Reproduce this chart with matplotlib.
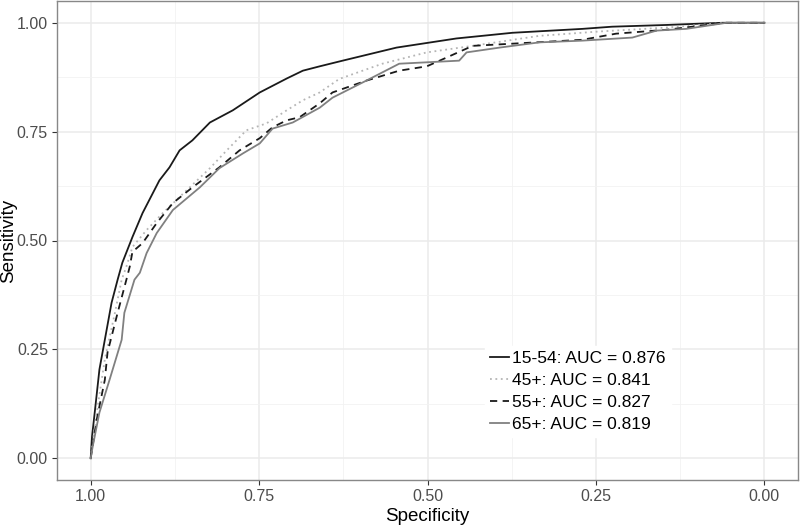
import matplotlib
matplotlib.use("Agg")
import matplotlib.pyplot as plt
from matplotlib.ticker import FixedLocator

plt.rcParams['font.family'] = ['Liberation Sans', 'DejaVu Sans']

labels = ["15-54: AUC = 0.876", "45+: AUC = 0.841", "55+: AUC = 0.827", "65+: AUC = 0.819"]

spec_1554 = [1.0, 0.998, 0.994, 0.987, 0.979, 0.969, 0.960, 0.953, 0.938, 0.923, 0.898, 0.883,
             0.868, 0.849, 0.823, 0.789, 0.749, 0.709, 0.685, 0.660, 0.626, 0.546, 0.457, 0.374,
             0.270, 0.226, 0.145, 0.062, 0.0]
sens_1554 = [0.0, 0.05, 0.105, 0.204, 0.272, 0.357, 0.41, 0.449, 0.508, 0.563, 0.638, 0.668,
             0.707, 0.730, 0.771, 0.799, 0.84, 0.872, 0.89, 0.90, 0.913, 0.943, 0.964, 0.977,
             0.986, 0.991, 0.995, 1.0, 1.0]

spec_45 = [1.0, 0.991, 0.979, 0.964, 0.954, 0.947, 0.938, 0.917, 0.893, 0.853, 0.823, 0.798,
           0.769, 0.739, 0.709, 0.685, 0.660, 0.631, 0.567, 0.501, 0.433, 0.334, 0.245, 0.145,
           0.056, 0.0]
sens_45 = [0.0, 0.105, 0.227, 0.334, 0.41, 0.44, 0.485, 0.524, 0.563, 0.622, 0.666, 0.707,
           0.753, 0.769, 0.799, 0.822, 0.84, 0.871, 0.906, 0.932, 0.947, 0.970, 0.980, 0.989,
           1.0, 1.0]

spec_55 = [1.0, 0.991, 0.979, 0.975, 0.960, 0.947, 0.942, 0.938, 0.923, 0.902, 0.878, 0.849,
           0.809, 0.779, 0.749, 0.730, 0.709, 0.690, 0.660, 0.641, 0.591, 0.542, 0.501, 0.482,
           0.433, 0.374, 0.270, 0.220, 0.145, 0.096, 0.056, 0.0]
sens_55 = [0.0, 0.089, 0.18, 0.243, 0.334, 0.41, 0.44, 0.474, 0.494, 0.54, 0.586, 0.622,
           0.668, 0.707, 0.735, 0.760, 0.776, 0.783, 0.815, 0.84, 0.867, 0.89, 0.90, 0.913,
           0.947, 0.952, 0.961, 0.975, 0.984, 0.993, 1.0, 1.0]

spec_65 = [1.0, 0.997, 0.987, 0.972, 0.954, 0.950, 0.935, 0.927, 0.917, 0.902, 0.878, 0.838,
           0.809, 0.774, 0.749, 0.730, 0.700, 0.660, 0.641, 0.591, 0.542, 0.453, 0.442, 0.393,
           0.334, 0.270, 0.196, 0.160, 0.116, 0.056, 0.0]
sens_65 = [0.0, 0.027, 0.105, 0.18, 0.272, 0.334, 0.41, 0.426, 0.471, 0.517, 0.57, 0.622,
           0.666, 0.70, 0.723, 0.757, 0.771, 0.805, 0.828, 0.867, 0.906, 0.913, 0.932, 0.943,
           0.955, 0.959, 0.966, 0.982, 0.986, 1.0, 1.0]

ticks = [0.0, 0.25, 0.5, 0.75, 1.0]
tick_labels = ["0.00", "0.25", "0.50", "0.75", "1.00"]

fig = plt.figure(figsize=(8, 5.31), dpi=100)
ax = fig.add_axes([57/800, 51/531, 741/800, 479/531])

ax.plot(spec_1554, sens_1554, color='#1a1a1a', lw=1.3, linestyle='-', label=labels[0])
ax.plot(spec_45, sens_45, color='#b5b5b5', lw=1.3, linestyle=(0, (1, 2)), label=labels[1])
ax.plot(spec_55, sens_55, color='#1a1a1a', lw=1.3, linestyle=(0, (4, 3)), label=labels[2])
ax.plot(spec_65, sens_65, color='#808080', lw=1.3, linestyle='-', label=labels[3])

ax.set_xlim(1.05, -0.05)
ax.set_ylim(-0.05, 1.05)
ax.set_xticks(ticks)
ax.set_xticklabels(tick_labels)
ax.set_yticks(ticks)
ax.set_yticklabels(tick_labels)
ax.xaxis.set_minor_locator(FixedLocator([0.125, 0.375, 0.625, 0.875]))
ax.yaxis.set_minor_locator(FixedLocator([0.125, 0.375, 0.625, 0.875]))
ax.grid(which='major', color='#ebebeb', lw=1.1)
ax.grid(which='minor', color='#f2f2f2', lw=0.6)
ax.set_axisbelow(True)
ax.tick_params(which='major', length=3.5, width=0.8, color='#333333', labelsize=11.5,
               labelcolor='#4d4d4d', pad=3)
ax.tick_params(which='minor', length=0)
for s in ax.spines.values():
    s.set_color('#888888')
    s.set_linewidth(1.0)

ax.set_xlabel("Specificity", fontsize=13.5, color='black', labelpad=3)
ax.set_ylabel("Sensitivity", fontsize=13.5, color='black')
ax.yaxis.set_label_coords((17 - 57) / 741, 0.5)

leg = ax.legend(loc='upper left', bbox_to_anchor=((485 - 57) / 741, (480 - 346) / 479),
                frameon=True, fontsize=12.5, handlelength=1.1, handletextpad=0.15,
                labelspacing=0.38, borderpad=0.3, borderaxespad=0)
leg.get_frame().set_facecolor('white')
leg.get_frame().set_edgecolor('white')
leg.get_frame().set_alpha(1)
leg.get_frame().set_boxstyle('square', pad=0)

fig.savefig("out.png", dpi=100)
